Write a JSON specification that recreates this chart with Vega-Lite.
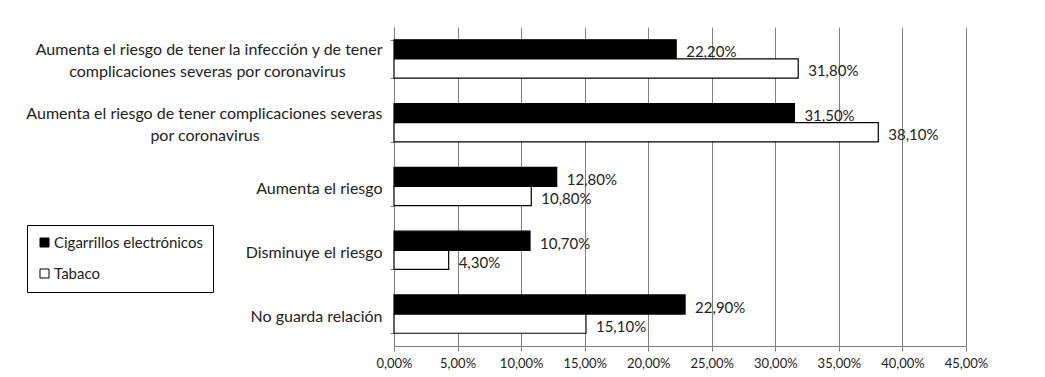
{
  "$schema": "https://vega.github.io/schema/vega-lite/v6.json",
  "width": 572,
  "height": 319,
  "autosize": {"type": "none"},
  "padding": {"left": 394, "top": 27, "right": 79, "bottom": 31},
  "background": "white",
  "config": {
    "locale": {"number": {"decimal": ",", "thousands": ".", "grouping": [3], "currency": ["", " €"]}},
    "view": {"stroke": null},
    "font": "Lato",
    "axis": {"labelFont": "Lato", "labelColor": "#222"}
  },
  "data": {
    "values": [
      {"categoria": "Aumenta el riesgo de tener la infección y de tener|complicaciones severas por coronavirus", "serie": "Cigarrillos electrónicos", "valor": 0.222},
      {"categoria": "Aumenta el riesgo de tener la infección y de tener|complicaciones severas por coronavirus", "serie": "Tabaco", "valor": 0.318},
      {"categoria": "Aumenta el riesgo de tener complicaciones severas|por coronavirus", "serie": "Cigarrillos electrónicos", "valor": 0.315},
      {"categoria": "Aumenta el riesgo de tener complicaciones severas|por coronavirus", "serie": "Tabaco", "valor": 0.381},
      {"categoria": "Aumenta el riesgo", "serie": "Cigarrillos electrónicos", "valor": 0.128},
      {"categoria": "Aumenta el riesgo", "serie": "Tabaco", "valor": 0.108},
      {"categoria": "Disminuye el riesgo", "serie": "Cigarrillos electrónicos", "valor": 0.107},
      {"categoria": "Disminuye el riesgo", "serie": "Tabaco", "valor": 0.043},
      {"categoria": "No guarda relación", "serie": "Cigarrillos electrónicos", "valor": 0.229},
      {"categoria": "No guarda relación", "serie": "Tabaco", "valor": 0.151}
    ]
  },
  "encoding": {
    "y": {
      "field": "categoria",
      "type": "nominal",
      "sort": null,
      "title": null,
      "scale": {"paddingInner": 0.4, "paddingOuter": 0.2},
      "axis": {
        "labelExpr": "datum.label == 'Aumenta el riesgo de tener la infección y de tener|complicaciones severas por coronavirus' ? ['Aumenta el riesgo de tener la infección y de tener', '\u200b', 'complicaciones severas por coronavirus\u00a0\u00a0\u00a0\u00a0\u00a0\u00a0\u00a0\u00a0\u00a0\u200b'] : datum.label == 'Aumenta el riesgo de tener complicaciones severas|por coronavirus' ? ['Aumenta el riesgo de tener complicaciones severas', '\u200b', 'por coronavirus\u00a0\u00a0\u00a0\u00a0\u00a0\u00a0\u00a0\u00a0\u00a0\u00a0\u00a0\u00a0\u00a0\u00a0\u00a0\u00a0\u00a0\u00a0\u00a0\u00a0\u00a0\u00a0\u00a0\u00a0\u00a0\u00a0\u00a0\u00a0\u00a0\u00a0\u200b'] : ['\u200b', datum.label]",
        "labelFontSize": 16,
        "labelLineHeight": 11,
        "labelOffset": -9,
        "labelLimit": 500,
        "labelAlign": "right",
        "labelBaseline": "middle",
        "labelPadding": 8,
        "tickBand": "extent",
        "tickSize": 4,
        "tickColor": "#808080",
        "domainColor": "#808080",
        "grid": false
      }
    },
    "x": {
      "field": "valor",
      "type": "quantitative",
      "title": null,
      "scale": {"domain": [0, 0.45], "nice": false},
      "axis": {
        "values": [0, 0.05, 0.1, 0.15, 0.2, 0.25, 0.3, 0.35, 0.4, 0.45],
        "format": ".2%",
        "labelFontSize": 13,
        "labelPadding": 6,
        "labelOverlap": false,
        "labelFlush": false,
        "grid": true,
        "gridColor": "#808080",
        "gridWidth": 1,
        "tickColor": "#808080",
        "tickSize": 5,
        "domainColor": "#808080"
      }
    },
    "yOffset": {"field": "serie", "type": "nominal", "sort": ["Cigarrillos electrónicos", "Tabaco"]}
  },
  "layer": [
    {
      "mark": {"type": "bar", "stroke": "black", "strokeWidth": 1.2},
      "encoding": {
        "fill": {
          "field": "serie",
          "type": "nominal",
          "sort": ["Cigarrillos electrónicos", "Tabaco"],
          "scale": {"range": ["black", "white"]},
          "legend": {
            "title": null,
            "orient": "none",
            "legendX": -367,
            "legendY": 198,
            "direction": "vertical",
            "strokeColor": "black",
            "padding": 10,
            "symbolType": "square",
            "symbolSize": 81,
            "symbolStrokeColor": "black",
            "symbolStrokeWidth": 1,
            "labelFont": "Lato",
            "labelFontSize": 15,
            "labelColor": "#222",
            "labelOffset": 2,
            "rowPadding": 15
          }
        }
      }
    },
    {
      "mark": {"type": "text", "align": "left", "baseline": "middle", "dx": 10, "dy": 3, "font": "Lato", "fontSize": 15, "color": "#222"},
      "encoding": {
        "text": {"field": "valor", "type": "quantitative", "format": ".2%"}
      }
    }
  ]
}
